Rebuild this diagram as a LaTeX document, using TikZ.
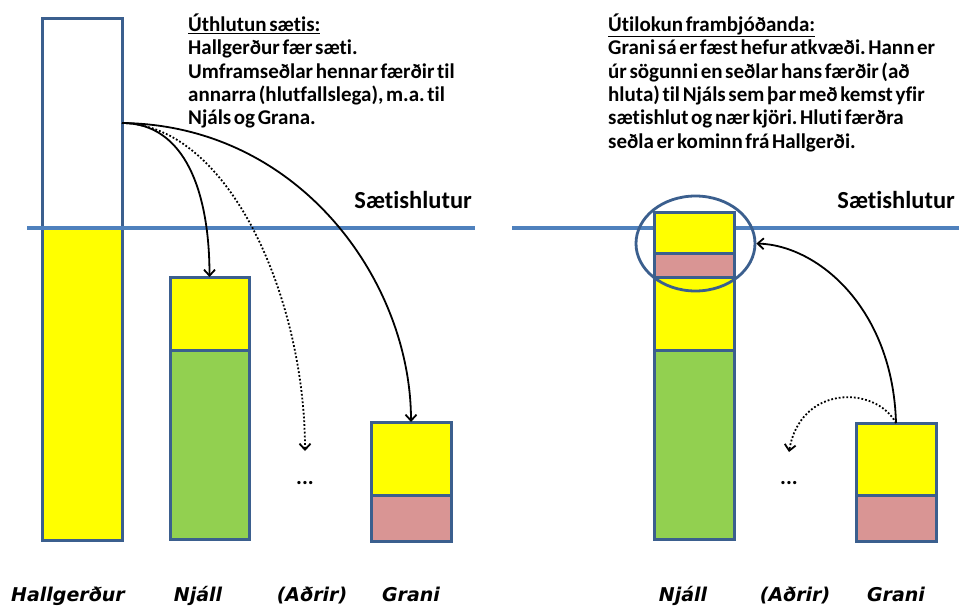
\documentclass[tikz,border=0pt]{standalone}
\usepackage{fontspec}
\setmainfont{Carlito}[WordSpace=0.55, Ligatures={TeX,NoCommon}]
\newfontfamily\labelfont{DejaVu Sans}
\usetikzlibrary{arrows.meta,shapes.geometric}
\definecolor{barblue}{HTML}{3B5F8E}
\definecolor{lineblue}{HTML}{4F81BD}
\definecolor{byellow}{HTML}{FFFF00}
\definecolor{bgreen}{HTML}{92D050}
\definecolor{bpink}{HTML}{D99594}
\frenchspacing
\begin{document}
\begin{tikzpicture}[x=1pt,y=-1pt,
  seg/.style={draw=barblue, line width=3pt, anchor=north west, inner sep=0pt, outer sep=0pt},
  seatline/.style={draw=lineblue, line width=4pt},
  flow/.style={black, line width=1.8pt, -{Straight Barb[length=6pt,width=11pt]}},
  dotflow/.style={flow, dotted},
  who/.style={font=\labelfont\fontsize{19}{24}\selectfont\bfseries\itshape, anchor=base, inner sep=0pt},
  note/.style={font=\fontsize{21}{23.4}\selectfont\bfseries, align=left, anchor=north west, inner sep=0pt},
  quota/.style={font=\fontsize{24.5}{26}\selectfont\bfseries, anchor=base east, inner sep=0pt},
  more/.style={font=\fontsize{22}{24}\selectfont\bfseries, anchor=base, inner sep=0pt}]
\useasboundingbox (0,0) rectangle (959,610);
\fill[white] (0,0) rectangle (959,610);

% ---------- left panel ----------
\node[seg, fill=white, minimum width=80pt, minimum height=521pt] (hall) at (42,19) {};
\node[seg, fill=byellow, minimum width=80pt, minimum height=312pt] (hally) at (42,228) {};
\coordinate (lqa) at (27,228);
\coordinate (lqb) at (475,228);
\draw[seatline] (lqa) -- (lqb);
\node[seg, fill=byellow, minimum width=79pt, minimum height=73pt] (njy) at (170,277) {};
\node[seg, fill=bgreen, minimum width=79pt, minimum height=189pt] (njg) at (170,350) {};
\node[seg, fill=byellow, minimum width=80pt, minimum height=73pt] (gry) at (371,422) {};
\node[seg, fill=bpink, minimum width=80pt, minimum height=46pt] (grp) at (371,495) {};
\node[more] (ldots) at (305,484) {...};
\coordinate (loth) at (305,451);
\coordinate (src) at ([yshift=-104pt]hall.north east);

\draw[flow] (src) .. controls +(63,0) and +(0,-85) .. (njy.north);
\draw[dotflow] (src) .. controls +(108,2) and +(0,-151) .. (loth);
\draw[flow] (src) .. controls +(178,2) and +(0,-140) .. (gry.north);

\node[note] (lnote) at (188,13.5) {\underline{Úthlutun sætis:}\\Hallgerður fær sæti.\\Umframseðlar hennar færðir til\\annarra (hlutfallslega), m.a. til\\Njáls og Grana.};
\node[quota] (lquota) at (472,208) {Sætishlutur};

\node[who] (lhall) at (68,601) {Hallgerður};
\node[who] (lnjall) at (198,601) {Njáll};
\node[who] (ladrir) at (312,601) {(Aðrir)};
\node[who] (lgrani) at (411,601) {Grani};

% ---------- right panel ----------
\coordinate (rqa) at (512,228);
\coordinate (rqb) at (959,228);
\draw[seatline] (rqa) -- (rqb);
\node[seg, fill=byellow, minimum width=80pt, minimum height=41pt] (rn1) at (654,212) {};
\node[seg, fill=bpink, minimum width=80pt, minimum height=24pt] (rn2) at (654,253) {};
\node[seg, fill=byellow, minimum width=80pt, minimum height=73pt] (rn3) at (654,277) {};
\node[seg, fill=bgreen, minimum width=80pt, minimum height=189pt] (rn4) at (654,350) {};
\node[ellipse, draw=barblue, line width=2.8pt, minimum width=119pt, minimum height=95pt, inner sep=0pt] (circ) at (695.5,243.5) {};
\node[seg, fill=byellow, minimum width=80pt, minimum height=72pt] (rgy) at (856,423) {};
\node[seg, fill=bpink, minimum width=80pt, minimum height=46pt] (rgp) at (856,495) {};
\node[more] (rdots) at (789,484) {...};
\coordinate (roth) at (789,452);

\draw[flow] (rgy.north) .. controls +(-3,-113) and +(63,2) .. (circ.east);
\draw[dotflow] (rgy.north) .. controls +(-21,-38) and +(11,-67) .. (roth);

\node[note] (rnote) at (608,13.5) {\underline{Útilokun frambjóðanda:}\\Grani sá er fæst hefur atkvæði. Hann er\\úr sögunni en seðlar hans færðir (að\\hluta) til Njáls sem þar með kemst yfir\\sætishlut og nær kjöri. Hluti færðra\\seðla er kominn frá Hallgerði.};
\node[quota] (rquota) at (955,208) {Sætishlutur};

\node[who] (rnjall) at (683,601) {Njáll};
\node[who] (radrir) at (795,601) {(Aðrir)};
\node[who] (rgrani) at (896,601) {Grani};
\end{tikzpicture}
\end{document}
